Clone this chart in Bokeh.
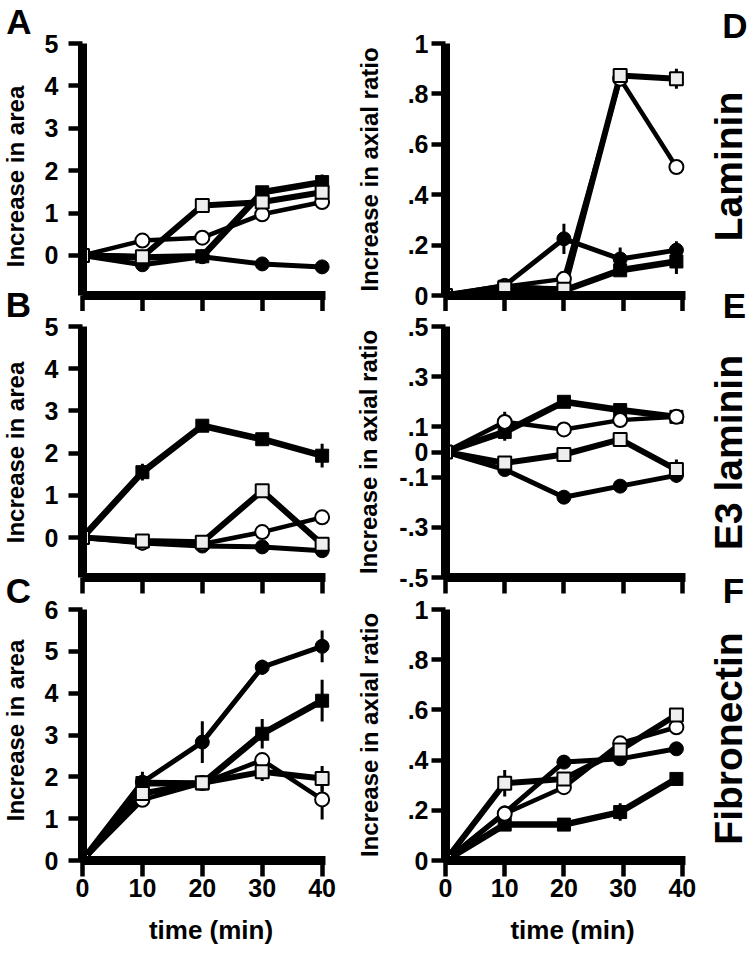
import math
from bokeh.plotting import figure
from bokeh.models import Range1d, FixedTicker, Label
from bokeh.layouts import column, row
from bokeh.embed import file_html
from bokeh.resources import INLINE

# ---------------- data ----------------
time_left = [0, 10, 20, 30, 40]
time_right = [0, 10, 20, 29.5, 39]

# Panel A: laminin, increase in area
A_filled_circle = [0, -0.22, -0.03, -0.20, -0.27]
A_filled_square = [0, -0.05, -0.02, 1.49, 1.73]
A_open_circle = [0, 0.35, 0.42, 0.97, 1.26]
A_open_square = [0, -0.03, 1.18, 1.26, 1.49]
A_err_filled_circle = [0, 0, 0, 0, 0]
A_err_filled_square = [0, 0, 0, 0.12, 0.18]
A_err_open_circle = [0, 0, 0, 0, 0]
A_err_open_square = [0, 0, 0, 0, 0]

# Panel B: E3 laminin, increase in area
B_filled_circle = [0, -0.13, -0.20, -0.22, -0.31]
B_filled_square = [0, 1.55, 2.65, 2.33, 1.94]
B_open_circle = [0, -0.12, -0.15, 0.13, 0.48]
B_open_square = [0, -0.08, -0.11, 1.11, -0.16]
B_err_filled_circle = [0, 0, 0, 0, 0]
B_err_filled_square = [0, 0.2, 0, 0, 0.28]
B_err_open_circle = [0, 0, 0, 0, 0]
B_err_open_square = [0, 0, 0, 0, 0]

# Panel C: fibronectin, increase in area
C_filled_circle = [0, 1.87, 2.83, 4.62, 5.12]
C_filled_square = [0, 1.85, 1.84, 3.03, 3.82]
C_open_circle = [0, 1.45, 1.85, 2.40, 1.46]
C_open_square = [0, 1.60, 1.86, 2.12, 1.96]
C_err_filled_circle = [0, 0.25, 0.5, 0.18, 0.38]
C_err_filled_square = [0, 0, 0, 0.35, 0.5]
C_err_open_circle = [0, 0, 0, 0, 0.48]
C_err_open_square = [0, 0, 0, 0.22, 0.3]

# Panel D: laminin, increase in axial ratio
D_filled_circle = [0, 0.04, 0.225, 0.145, 0.18]
D_filled_square = [0, 0.035, 0.02, 0.10, 0.135]
D_open_circle = [0, 0.035, 0.066, 0.86, 0.51]
D_open_square = [0, 0.03, 0.025, 0.873, 0.86]
D_err_filled_circle = [0, 0, 0.06, 0.045, 0.035]
D_err_filled_square = [0, 0, 0, 0, 0.05]
D_err_open_circle = [0, 0, 0, 0, 0]
D_err_open_square = [0, 0, 0, 0, 0.04]

# Panel E: E3 laminin, increase in axial ratio
E_filled_circle = [0, -0.07, -0.18, -0.136, -0.093]
E_filled_square = [0, 0.08, 0.20, 0.167, 0.14]
E_open_circle = [0, 0.12, 0.09, 0.127, 0.14]
E_open_square = [0, -0.044, -0.01, 0.05, -0.07]
E_err_filled_circle = [0, 0, 0, 0, 0.03]
E_err_filled_square = [0, 0.035, 0.02, 0, 0]
E_err_open_circle = [0, 0.04, 0, 0, 0]
E_err_open_square = [0, 0, 0, 0, 0.04]

# Panel F: fibronectin, increase in axial ratio
F_filled_circle = [0, 0.19, 0.392, 0.405, 0.445]
F_filled_square = [0, 0.143, 0.143, 0.193, 0.325]
F_open_circle = [0, 0.186, 0.292, 0.467, 0.531]
F_open_square = [0, 0.308, 0.325, 0.44, 0.58]
F_err_filled_circle = [0, 0, 0, 0, 0]
F_err_filled_square = [0, 0, 0, 0.035, 0]
F_err_open_circle = [0, 0, 0, 0, 0.03]
F_err_open_square = [0, 0.053, 0, 0, 0]

x_ticks = [0, 10, 20, 30, 40]
area_ticks_AB = [0, 1, 2, 3, 4, 5]
area_ticks_C = [0, 1, 2, 3, 4, 5, 6]
ratio_ticks = [0, 0.2, 0.4, 0.6, 0.8, 1]
ratio_labels = ["0", ".2", ".4", ".6", ".8", "1"]
ratio_ticks_E = [0.5, 0.3, 0.1, 0, -0.1, -0.3, -0.5]
ratio_labels_E = [".5", ".3", ".1", "0", "-.1", "-.3", "-.5"]

panel_letters_left = ["A", "B", "C"]
panel_letters_right = ["D", "E", "F"]
substrates = ["Laminin", "E3 laminin", "Fibronectin"]
area_label = "Increase in area"
ratio_label = "Increase in axial ratio"
time_label = "time (min)"

# ---------------- styling / geometry ----------------
FONT = "Liberation Sans"
TICK_FS = "25px"
STYLE = {
    "filled_circle": dict(marker="circle", size=14, fill="black", lw=5, mlw=1),
    "filled_square": dict(marker="square", size=13, fill="black", lw=6.5, mlw=1),
    "open_circle": dict(marker="circle", size=14, fill="white", lw=4.5, mlw=2),
    "open_square": dict(marker="square", size=13, fill="#eeeeee", lw=6, mlw=2),
}
ORDER = ["filled_circle", "filled_square", "open_circle", "open_square"]

X_END = 42.9
STRIP_L, W_L, W_R, STRIP_R = 36, 316, 348, 53
ROWS = [  # height, top border, bottom border
    (311, 43, 16),
    (283, 15, 17),
    (360, 15, 94),
]
TOTAL_H = sum(r[0] for r in ROWS)


def make_panel(side, rowi, xt, series, errs, yr, yticks, ylabels, ylabel,
               ylabel_standoff, bottom_labels):
    h, top, bottom = ROWS[rowi]
    if side == "L":
        w, mbl, mbr = W_L, 46, 13
        lab_standoff = 10
    else:
        w, mbl, mbr = W_R, 90, 1
        lab_standoff = 3
    p = figure(width=w, height=h, x_range=Range1d(0, X_END), y_range=Range1d(*yr),
               output_backend="svg", toolbar_location=None, title=None,
               min_border_left=mbl, min_border_right=mbr,
               min_border_top=top, min_border_bottom=bottom)
    p.grid.visible = False
    p.outline_line_color = None
    p.background_fill_color = "white"
    p.border_fill_color = "white"

    for name in ORDER:
        p.line(xt, series[name], line_width=STYLE[name]["lw"], color="black",
               line_join="round")
    for name in ORDER:
        xs, lo, hi = [], [], []
        for x, v, e in zip(xt, series[name], errs[name]):
            if e > 0:
                xs.append(x)
                lo.append(v - e)
                hi.append(v + e)
        if xs:
            p.segment(x0=xs, y0=lo, x1=xs, y1=hi, line_width=3, color="black")
    for name in ORDER:
        st = STYLE[name]
        p.scatter(xt, series[name], marker=st["marker"], size=st["size"],
                  fill_color=st["fill"], line_color="black", line_width=st["mlw"])

    # x axis
    xa = p.xaxis[0]
    xa.ticker = FixedTicker(ticks=x_ticks)
    xa.bounds = (-2.33, 40.5)
    xa.axis_line_width = 9
    xa.axis_line_color = "black"
    xa.major_tick_line_width = 4.5
    xa.major_tick_line_color = "black"
    xa.major_tick_out = 16
    xa.major_tick_in = 0
    xa.minor_tick_line_color = None
    xa.major_label_text_font = FONT
    xa.major_label_text_font_style = "bold"
    if bottom_labels:
        xa.major_label_text_font_size = TICK_FS
        xa.major_label_text_color = "black"
        xa.major_label_standoff = 2
        xa.axis_label = time_label
        xa.axis_label_text_font = FONT
        xa.axis_label_text_font_style = "bold"
        xa.axis_label_text_font_size = "26px"
        xa.axis_label_text_color = "black"
        xa.axis_label_standoff = 15
    else:
        xa.major_label_text_font_size = "0px"
        xa.major_label_text_color = None
        xa.major_label_standoff = 0

    # y axis
    ya = p.yaxis[0]
    ya.ticker = FixedTicker(ticks=yticks)
    ya.major_label_overrides = {t: s for t, s in zip(yticks, ylabels)}
    ya.axis_line_width = 9
    ya.axis_line_color = "black"
    ya.major_tick_line_width = 4.5
    ya.major_tick_line_color = "black"
    ya.major_tick_out = 14
    ya.major_tick_in = 0
    ya.minor_tick_line_color = None
    ya.major_label_text_font = FONT
    ya.major_label_text_font_style = "bold"
    ya.major_label_text_font_size = TICK_FS
    ya.major_label_text_color = "black"
    ya.major_label_standoff = lab_standoff
    if ylabel:
        ya.axis_label = ylabel
        ya.axis_label_text_font = FONT
        ya.axis_label_text_font_style = "bold"
        ya.axis_label_text_font_size = "24px"
        ya.axis_label_text_color = "black"
        ya.axis_label_standoff = ylabel_standoff
    return p


def text_strip(w, h, items):
    """A blank strip figure whose data space equals its pixel space (y down)."""
    p = figure(width=w, height=h, x_range=Range1d(0, w), y_range=Range1d(h, 0),
               x_axis_type=None, y_axis_type=None, output_backend="svg",
               toolbar_location=None, title=None,
               min_border_left=0, min_border_right=0, min_border_top=0, min_border_bottom=0)
    p.grid.visible = False
    p.outline_line_color = None
    p.background_fill_color = "white"
    p.border_fill_color = "white"
    for (txt, x, y, fs, rot) in items:
        p.add_layout(Label(x=x, y=y, text=txt, text_font=FONT, text_font_style="bold",
                           text_font_size=fs, text_align="center", text_baseline="middle",
                           angle=(math.pi / 2 if rot else 0), text_color="black"))
    return p


def ser(fc, fs, oc, os_):
    return {"filled_circle": fc, "filled_square": fs, "open_circle": oc, "open_square": os_}


pA = make_panel("L", 0, time_left,
                ser(A_filled_circle, A_filled_square, A_open_circle, A_open_square),
                ser(A_err_filled_circle, A_err_filled_square, A_err_open_circle, A_err_open_square),
                (-0.945, 5), area_ticks_AB, [str(t) for t in area_ticks_AB], None, 0, False)
pB = make_panel("L", 1, time_left,
                ser(B_filled_circle, B_filled_square, B_open_circle, B_open_square),
                ser(B_err_filled_circle, B_err_filled_square, B_err_open_circle, B_err_open_square),
                (-0.945, 5), area_ticks_AB, [str(t) for t in area_ticks_AB], None, 0, False)
pC = make_panel("L", 2, time_left,
                ser(C_filled_circle, C_filled_square, C_open_circle, C_open_square),
                ser(C_err_filled_circle, C_err_filled_square, C_err_open_circle, C_err_open_square),
                (0, 6), area_ticks_C, [str(t) for t in area_ticks_C], None, 0, True)
pD = make_panel("R", 0, time_right,
                ser(D_filled_circle, D_filled_square, D_open_circle, D_open_square),
                ser(D_err_filled_circle, D_err_filled_square, D_err_open_circle, D_err_open_square),
                (0, 1), ratio_ticks, ratio_labels, ratio_label, 22, False)
pE = make_panel("R", 1, time_right,
                ser(E_filled_circle, E_filled_square, E_open_circle, E_open_square),
                ser(E_err_filled_circle, E_err_filled_square, E_err_open_circle, E_err_open_square),
                (-0.5, 0.5), ratio_ticks_E, ratio_labels_E, ratio_label, 14, False)
pF = make_panel("R", 2, time_right,
                ser(F_filled_circle, F_filled_square, F_open_circle, F_open_square),
                ser(F_err_filled_circle, F_err_filled_square, F_err_open_circle, F_err_open_square),
                (0, 1), ratio_ticks, ratio_labels, ratio_label, 22, True)

left_strip = text_strip(STRIP_L, TOTAL_H, [
    (panel_letters_left[0], 18.5, 20.5, "35px", False),
    (area_label, 15, 176, "24px", True),
    (panel_letters_left[1], 18, 304, "35px", False),
    (area_label, 15, 452, "24px", True),
    (panel_letters_left[2], 18, 590, "35px", False),
    (area_label, 15, 730, "24px", True),
])
right_strip = text_strip(STRIP_R, TOTAL_H, [
    (panel_letters_right[0], 34.5, 24.5, "35px", False),
    (substrates[0], 28, 166, "39px", True),
    (panel_letters_right[1], 34, 305, "35px", False),
    (substrates[1], 28, 452, "39px", True),
    (panel_letters_right[2], 33, 590, "35px", False),
    (substrates[2], 28, 738, "39px", True),
])

grid = column(row(pA, pD), row(pB, pE), row(pC, pF))
layout = row(left_strip, grid, right_strip)
open("out.html", "w").write(file_html(layout, INLINE))
